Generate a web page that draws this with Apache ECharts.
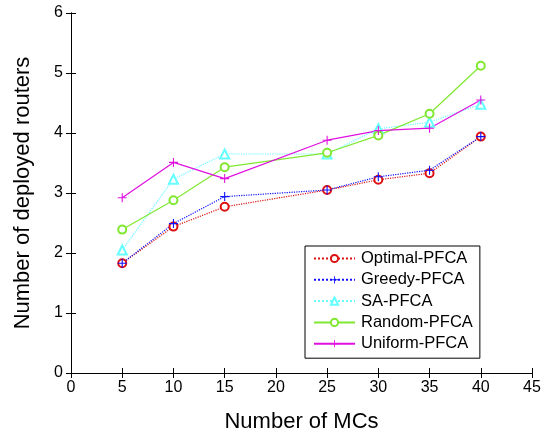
<!DOCTYPE html>
<html><head><meta charset="utf-8">
<script src="https://cdn.jsdelivr.net/npm/echarts@6/dist/echarts.min.js"></script>
<style>html,body{margin:0;padding:0;background:#fff}#c{width:553px;height:438px}</style>
</head><body><div id="c"></div>
<script>
const xValues = [5, 10, 15, 25, 30, 35, 40];
const optimal = [1.83, 2.44, 2.77, 3.05, 3.22, 3.33, 3.94];
const greedy  = [1.83, 2.49, 2.94, 3.05, 3.27, 3.38, 3.94];
const sa      = [2.05, 3.23, 3.65, 3.65, 4.07, 4.18, 4.48];
const random  = [2.39, 2.88, 3.43, 3.67, 3.96, 4.32, 5.12];
const uniform = [2.92, 3.51, 3.24, 3.88, 4.04, 4.08, 4.55];
const seriesNames = ['Optimal-PFCA','Greedy-PFCA','SA-PFCA','Random-PFCA','Uniform-PFCA'];

const plus = 'path://M4.4,0H5.6V4.4H10V5.6H5.6V10H4.4V5.6H0V4.4H4.4Z';
const font = 'Arial, "Liberation Sans", sans-serif';
function pairs(arr){ return xValues.map((x,i)=>[x, arr[i]]); }

const defs = [
  {name: seriesNames[0], data: optimal, color: '#dd1111', type: 'dotted', symbol: 'emptyCircle', size: 8},
  {name: seriesNames[1], data: greedy,  color: '#1010ff', type: 'dotted', symbol: plus, size: 9},
  {name: seriesNames[2], data: sa,      color: '#66ffff', type: 'dotted', symbol: 'emptyTriangle', size: 9},
  {name: seriesNames[3], data: random,  color: '#80e830', type: 'solid',  symbol: 'emptyCircle', size: 8},
  {name: seriesNames[4], data: uniform, color: '#e010e0', type: 'solid',  symbol: plus, size: 9}
];

const chart = echarts.init(document.getElementById('c'), null, {renderer: 'canvas'});
chart.setOption({
  animation: false,
  grid: {left: 71, right: 21, top: 13, bottom: 62},
  legend: {
    orient: 'vertical', left: 305, top: 246, width: 174,
    padding: [4, 7, 6, 8],
    borderColor: '#000', borderWidth: 1, backgroundColor: '#fff',
    itemWidth: 41, itemHeight: 9, itemGap: 4.3,
    textStyle: {fontFamily: font, fontSize: 16.5, lineHeight: 17, color: '#000', padding: [0,0,0,1]},
    data: seriesNames
  },
  xAxis: [{
    type: 'value', min: 0, max: 45, interval: 5,
    name: 'Number of MCs', nameLocation: 'middle', nameGap: 38,
    nameTextStyle: {fontFamily: font, fontSize: 22, color: '#000'},
    axisLine: {lineStyle: {color: '#000', width: 1}},
    axisTick: {inside: true, length: 5, lineStyle: {color: '#000'}},
    axisLabel: {fontFamily: font, fontSize: 16, color: '#000', margin: 7},
    splitLine: {show: false}
  }, {
    type: 'value', min: 0, max: 45, interval: 5, position: 'top',
    axisLine: {lineStyle: {color: '#000', width: 1}},
    axisTick: {inside: true, length: 5, lineStyle: {color: '#000'}},
    axisLabel: {show: false}, splitLine: {show: false}
  }],
  yAxis: [{
    type: 'value', min: 0, max: 6, interval: 1,
    name: 'Number of deployed routers', nameLocation: 'middle', nameGap: 37, nameRotate: 90,
    nameTextStyle: {fontFamily: font, fontSize: 22, color: '#000'},
    axisLine: {show: true, lineStyle: {color: '#000', width: 1}},
    axisTick: {show: true, inside: true, length: 5, lineStyle: {color: '#000'}},
    axisLabel: {fontFamily: font, fontSize: 16, color: '#000', margin: 8},
    splitLine: {show: false}
  }, {
    type: 'value', min: 0, max: 6, interval: 1, position: 'right',
    axisLine: {show: true, lineStyle: {color: '#000', width: 1}},
    axisTick: {show: true, inside: true, length: 5, lineStyle: {color: '#000'}},
    axisLabel: {show: false}, splitLine: {show: false}
  }],
  series: defs.map(d => ({
    name: d.name, type: 'line', data: pairs(d.data),
    symbol: d.symbol, symbolSize: d.size, showSymbol: true,
    lineStyle: {color: d.color, width: 1.2, type: d.type},
    itemStyle: d.symbol === plus ? {color: d.color, borderWidth: 0} : {color: d.color, borderColor: d.color, borderWidth: 1.1},
    emphasis: {disabled: true}
  }))
});
</script></body></html>
